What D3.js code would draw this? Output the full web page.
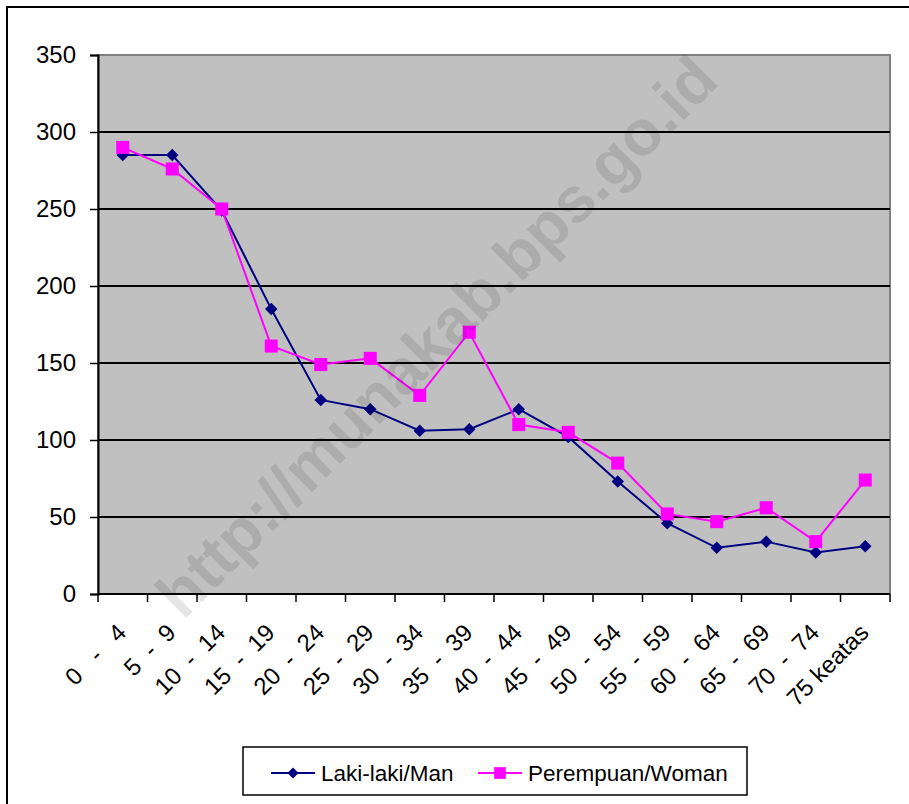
<!DOCTYPE html>
<html>
<head>
<meta charset="utf-8">
<script src="https://cdn.jsdelivr.net/npm/d3@7"></script>
<style>
  body { margin: 0; background: #fff; }
  svg { display: block; font-family: "Liberation Sans", Arial, sans-serif; }
</style>
</head>
<body>
<svg id="chart" width="909" height="804"></svg>
<script>
// age groups (x categories)
const ageGroups = ["0   -   4", "5  -  9", "10  -  14", "15  -  19", "20  -  24", "25  -  29",
    "30  -  34", "35  -  39", "40  -  44", "45  -  49", "50  -  54", "55  -  59",
    "60  -  64", "65  -  69", "70  -  74", "75 keatas"];

// series values
const manValues = [285, 285, 249, 185, 126, 120, 106, 107, 120, 102, 73, 46, 30, 34, 27, 31];
const womanValues = [290, 276, 250, 161, 149, 153, 129, 170, 110, 105, 85, 52, 47, 56, 34, 74];

const yTicks = [0, 50, 100, 150, 200, 250, 300, 350];
const seriesNames = ["Laki-laki/Man", "Perempuan/Woman"];

const svg = d3.select("#chart");

// outer chart border (runs off right and bottom)
svg.append("rect")
    .attr("x", 7).attr("y", 7)
    .attr("width", 920).attr("height", 820)
    .attr("fill", "#fff")
    .attr("stroke", "#000")
    .attr("stroke-width", 2);

const plot = { left: 98, right: 890, top: 55, bottom: 594 };

const x = d3.scaleBand()
    .domain(ageGroups)
    .range([plot.left, plot.right]);

const y = d3.scaleLinear()
    .domain([0, 350])
    .range([plot.bottom, plot.top]);

// plot background
svg.append("rect")
    .attr("x", plot.left).attr("y", plot.top)
    .attr("width", plot.right - plot.left)
    .attr("height", plot.bottom - plot.top)
    .attr("fill", "#c0c0c0")
    .attr("stroke", "#808080")
    .attr("stroke-width", 2);

// gridlines
svg.append("g")
    .selectAll("line")
    .data(yTicks.filter(d => d > 0 && d < 350))
    .join("line")
    .attr("x1", plot.left).attr("x2", plot.right)
    .attr("y1", d => y(d)).attr("y2", d => y(d))
    .attr("stroke", "#000")
    .attr("stroke-width", 2);

// y axis
const yAxis = svg.append("g")
    .attr("transform", `translate(${plot.left},0)`)
    .call(d3.axisLeft(y).tickValues(yTicks).tickSize(8).tickPadding(14));
yAxis.select(".domain").attr("stroke", "#000").attr("stroke-width", 2);
yAxis.selectAll(".tick line").attr("stroke", "#000").attr("stroke-width", 1.5);
yAxis.selectAll(".tick text")
    .attr("font-size", 24)
    .attr("font-family", "Liberation Sans, Arial, sans-serif")
    .attr("fill", "#000");

// x axis: ticks at category boundaries
const xAxis = svg.append("g");
xAxis.append("line")
    .attr("x1", plot.left).attr("x2", plot.right)
    .attr("y1", plot.bottom).attr("y2", plot.bottom)
    .attr("stroke", "#000").attr("stroke-width", 2);
xAxis.selectAll(".xtick")
    .data(ageGroups.concat(["end"]))
    .join("line")
    .attr("class", "xtick")
    .attr("x1", (d, i) => plot.left + i * x.bandwidth())
    .attr("x2", (d, i) => plot.left + i * x.bandwidth())
    .attr("y1", plot.bottom).attr("y2", plot.bottom + 8)
    .attr("stroke", "#000").attr("stroke-width", 1.5);

xAxis.selectAll(".xlabel")
    .data(ageGroups)
    .join("text")
    .attr("class", "xlabel")
    .attr("transform", d => `translate(${x(d) + x.bandwidth() / 2 + 5},634) rotate(-45)`)
    .attr("text-anchor", "end")
    .attr("font-size", 24)
    .attr("fill", "#000")
    .style("white-space", "pre")
    .text(d => d);

// series
const series = [
    { name: seriesNames[0], values: manValues, color: "#000080", shape: d3.symbolDiamond2, size: 100 },
    { name: seriesNames[1], values: womanValues, color: "#ff00ff", shape: d3.symbolSquare, size: 170 }
];

const line = d3.line()
    .x((d, i) => x(ageGroups[i]) + x.bandwidth() / 2)
    .y(d => y(d));

series.forEach(s => {
    svg.append("path")
        .datum(s.values)
        .attr("fill", "none")
        .attr("stroke", s.color)
        .attr("stroke-width", 2)
        .attr("d", line);

    svg.append("g")
        .selectAll("path")
        .data(s.values)
        .join("path")
        .attr("transform", (d, i) => `translate(${x(ageGroups[i]) + x.bandwidth() / 2},${y(d)})`)
        .attr("d", d3.symbol().type(s.shape).size(s.size))
        .attr("fill", s.color);
});

// watermark
svg.append("text")
    .attr("transform", "translate(452,352) rotate(-45)")
    .attr("text-anchor", "middle")
    .attr("font-size", 64)
    .attr("font-weight", "bold")
    .attr("fill", "rgba(0,0,0,0.1)")
    .text("http://munakab.bps.go.id");

// legend
const legend = svg.append("g");
legend.append("rect")
    .attr("x", 243).attr("y", 747)
    .attr("width", 504).attr("height", 48)
    .attr("fill", "#fff")
    .attr("stroke", "#000")
    .attr("stroke-width", 1.5);

const legendPos = [271, 478];
series.forEach((s, i) => {
    const lx = legendPos[i];
    legend.append("line")
        .attr("x1", lx).attr("x2", lx + 44)
        .attr("y1", 773).attr("y2", 773)
        .attr("stroke", s.color).attr("stroke-width", 2);
    legend.append("path")
        .attr("transform", `translate(${lx + 22},773)`)
        .attr("d", d3.symbol().type(s.shape).size(s.size * 0.8))
        .attr("fill", s.color);
    legend.append("text")
        .attr("x", lx + 50).attr("y", 781)
        .attr("font-size", 22.5)
        .attr("fill", "#000")
        .text(s.name);
});
</script>
</body>
</html>
